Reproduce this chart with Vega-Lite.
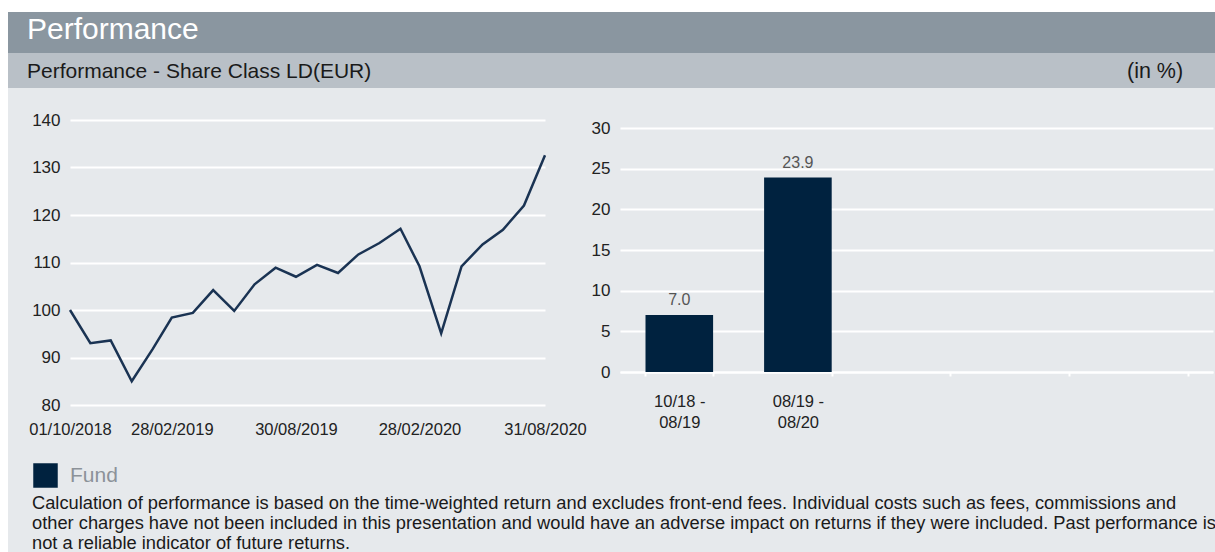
{
  "$schema": "https://vega.github.io/schema/vega-lite/v6.json",
  "background": "#e6e9ec",
  "padding": 0,
  "spacing": 0,
  "config": {
    "view": {"stroke": null},
    "font": "Liberation Sans",
    "axis": {"labelFont": "Liberation Sans", "labelFontSize": 16.5, "labelColor": "#222222"},
    "title": {"font": "Liberation Sans", "fontWeight": "normal"},
    "legend": {"labelFont": "Liberation Sans"}
  },
  "hconcat": [
    {"width": 8, "height": 552, "view": {"fill": "#ffffff"}, "data": {"values": []}, "mark": "rect", "encoding": {}},
    {
      "spacing": 0,
      "vconcat": [
        {"width": 1207, "height": 12, "view": {"fill": "#ffffff"}, "data": {"values": []}, "mark": "rect", "encoding": {}},
        {"width": 1207, "height": 41, "view": {"fill": "#8a96a0"}, "data": {"values": []}, "mark": "rect", "encoding": {},
         "title": {"text": "Performance", "orient": "top", "anchor": "start", "frame": "group", "offset": -57, "dx": 19, "baseline": "alphabetic", "fontSize": 30, "color": "#ffffff"}},
        {
          "spacing": 0,
          "hconcat": [
            {"width": 1112, "height": 35, "view": {"fill": "#b9c0c7"}, "data": {"values": []}, "mark": "rect", "encoding": {},
             "title": {"text": "Performance - Share Class LD(EUR)", "orient": "top", "anchor": "start", "frame": "group", "offset": -46, "dx": 19, "baseline": "alphabetic", "fontSize": 21, "color": "#1a1a1a"}},
            {"width": 95, "height": 35, "view": {"fill": "#b9c0c7"}, "data": {"values": []}, "mark": "rect", "encoding": {},
             "title": {"text": "(in %)", "orient": "top", "anchor": "start", "frame": "group", "offset": -46, "dx": 7, "baseline": "alphabetic", "fontSize": 21.5, "color": "#1a1a1a"}}
          ]
        },
        {
          "width": 1207,
          "height": 464,
          "title": {
            "text": [
              "Calculation of performance is based on the time-weighted return and excludes front-end fees. Individual costs such as fees, commissions and",
              "other charges have not been included in this presentation and would have an adverse impact on returns if they were included. Past performance is",
              "not a reliable indicator of future returns."
            ],
            "orient": "top", "anchor": "start", "frame": "group", "offset": -479.3, "dx": 24, "baseline": "alphabetic",
            "fontSize": 18.3, "lineHeight": 20, "color": "#1a1a1a"
          },
          "resolve": {"scale": {"x": "independent", "y": "independent"}, "axis": {"x": "independent", "y": "independent"}},
          "layer": [
            {
              "data": {"values": [
                {"date": "2018-10-01", "value": 100.0},
                {"date": "2018-10-31", "value": 93.0},
                {"date": "2018-11-30", "value": 93.6},
                {"date": "2018-12-31", "value": 85.0},
                {"date": "2019-01-31", "value": 91.8},
                {"date": "2019-02-28", "value": 98.4},
                {"date": "2019-03-31", "value": 99.4},
                {"date": "2019-04-30", "value": 104.2},
                {"date": "2019-05-31", "value": 99.8},
                {"date": "2019-06-30", "value": 105.4},
                {"date": "2019-07-31", "value": 108.9},
                {"date": "2019-08-30", "value": 107.0},
                {"date": "2019-09-30", "value": 109.5},
                {"date": "2019-10-31", "value": 107.8},
                {"date": "2019-11-30", "value": 111.7},
                {"date": "2019-12-31", "value": 114.1},
                {"date": "2020-01-31", "value": 117.1},
                {"date": "2020-02-28", "value": 109.2},
                {"date": "2020-03-31", "value": 95.1},
                {"date": "2020-04-30", "value": 109.2},
                {"date": "2020-05-31", "value": 113.8},
                {"date": "2020-06-30", "value": 116.9},
                {"date": "2020-07-31", "value": 122.0},
                {"date": "2020-08-31", "value": 132.6}
              ]},
              "mark": {"type": "line", "color": "#1a3353", "strokeWidth": 2.5},
              "encoding": {
                "x": {
                  "field": "date", "type": "temporal",
                  "scale": {"type": "utc", "range": [62, 537], "domain": [{"year": 2018, "month": 10, "date": 1, "utc": true}, {"year": 2020, "month": 8, "date": 31, "utc": true}]},
                  "axis": {
                    "orient": "bottom", "offset": -147,
                    "title": null,
                    "values": [
                      {"year": 2018, "month": 10, "date": 1, "utc": true},
                      {"year": 2019, "month": 2, "date": 28, "utc": true},
                      {"year": 2019, "month": 8, "date": 30, "utc": true},
                      {"year": 2020, "month": 2, "date": 28, "utc": true},
                      {"year": 2020, "month": 8, "date": 31, "utc": true}
                    ],
                    "format": "%d/%m/%Y",
                    "grid": false, "ticks": false, "domain": false,
                    "labelPadding": 16, "labelOverlap": false, "labelFlush": false
                  }
                },
                "y": {
                  "field": "value", "type": "quantitative",
                  "scale": {"domain": [80, 140], "range": [317, 32], "nice": false, "zero": false},
                  "axis": {
                    "orient": "left", "offset": -62,
                    "title": null,
                    "values": [80, 90, 100, 110, 120, 130, 140],
                    "labelFontSize": 17,
                    "grid": true, "gridColor": "#ffffff", "gridWidth": 2,
                    "ticks": false, "domain": false, "labelPadding": 10
                  }
                }
              }
            },
            {
              "data": {"values": [
                {"period": "10/18 - 08/19", "return": 7.0, "series": "Fund"},
                {"period": "08/19 - 08/20", "return": 23.9, "series": "Fund"}
              ]},
              "encoding": {
                "x": {
                  "field": "period", "type": "nominal", "sort": null,
                  "scale": {"domain": ["10/18 - 08/19", "08/19 - 08/20", "c3", "c4", "c5"], "range": [612, 1205], "paddingInner": 0.43, "paddingOuter": 0.215},
                  "axis": {
                    "orient": "bottom", "offset": -180,
                    "title": null, "labelAngle": 0,
                    "labelExpr": "indexof(datum.label, ' - ') > 0 ? [slice(datum.label, 0, 7), slice(datum.label, 8)] : ''",
                    "labelPadding": 17, "labelBaseline": "top", "labelLineHeight": 21,
                    "ticks": true, "tickColor": "#ffffff", "tickSize": 4, "tickWidth": 2, "tickBand": "extent",
                    "domain": true, "domainColor": "#ffffff", "domainWidth": 2, "grid": false
                  }
                },
                "y": {
                  "field": "return", "type": "quantitative",
                  "scale": {"domain": [0, 30], "range": [284, 40], "nice": false},
                  "axis": {
                    "orient": "left", "offset": -612,
                    "title": null, "values": [0, 5, 10, 15, 20, 25, 30],
                    "labelFontSize": 17,
                    "grid": true, "gridColor": "#ffffff", "gridWidth": 2,
                    "ticks": false, "domain": false, "labelPadding": 10
                  }
                }
              },
              "layer": [
                {
                  "mark": {"type": "bar"},
                  "encoding": {
                    "color": {
                      "field": "series", "type": "nominal",
                      "scale": {"range": ["#00223f"]},
                      "legend": {
                        "title": null, "orient": "none", "legendX": 33, "legendY": 463,
                        "symbolType": "square", "symbolSize": 600, "symbolStrokeWidth": 0,
                        "labelFontSize": 21, "labelColor": "#8c9299", "labelOffset": 12, "padding": 0
                      }
                    }
                  }
                },
                {
                  "mark": {"type": "text", "baseline": "alphabetic", "dy": -10, "fontSize": 16, "color": "#555555"},
                  "encoding": {"text": {"field": "return", "type": "quantitative", "format": ".1f"}}
                }
              ]
            }
          ]
        }
      ]
    }
  ]
}
